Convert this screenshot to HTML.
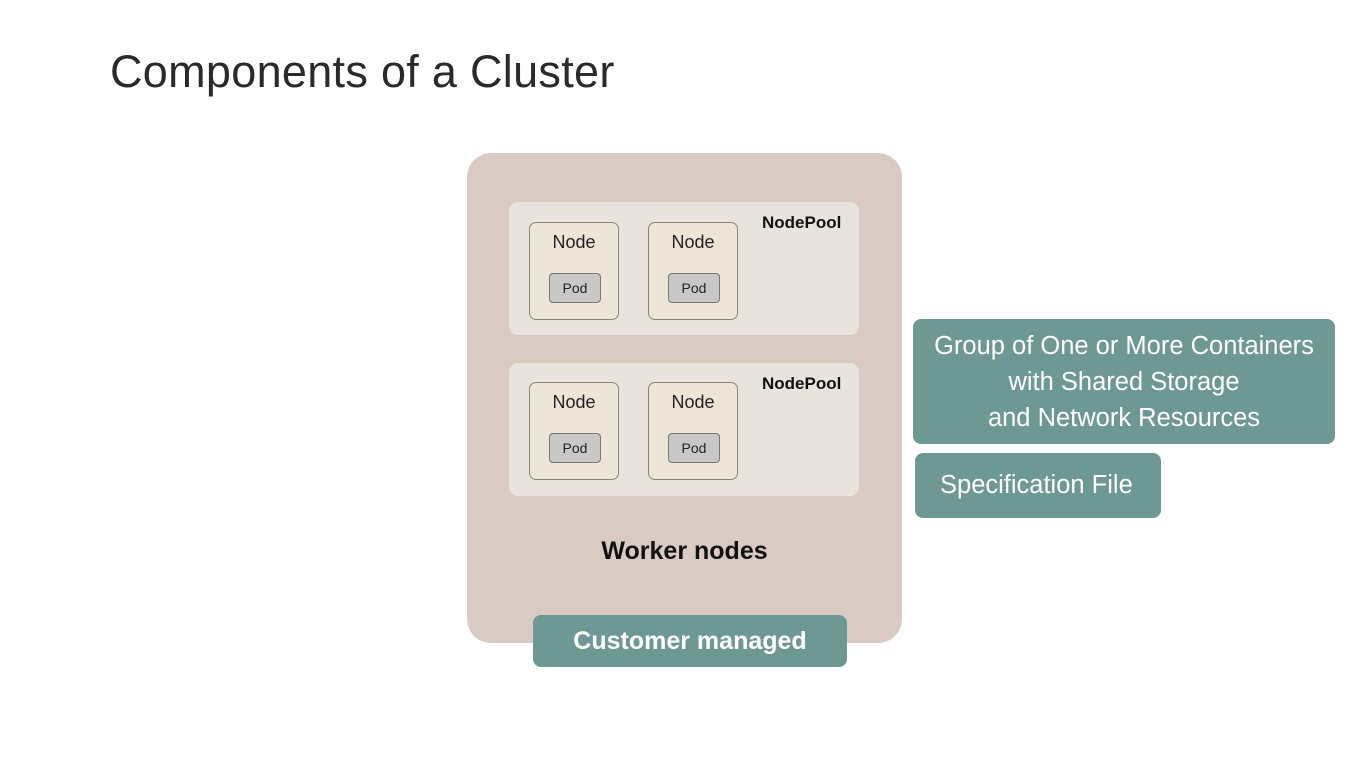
<!DOCTYPE html>
<html><head><meta charset="utf-8"><style>
body{margin:0;width:1366px;height:768px;background:#fff;position:relative;overflow:hidden;font-family:"Liberation Sans",sans-serif;}
.abs{position:absolute;box-sizing:border-box;}
h1{position:absolute;left:110px;top:46px;margin:0;font-weight:normal;font-size:45px;letter-spacing:0.3px;color:#2a2a2a;}
.outer{left:467px;top:153px;width:435px;height:490px;background:#d9cbc3;border-radius:24px;}
.pool{width:352px;height:135px;background:#e9e3dd;border:1.5px solid #d6cbbd;border-radius:10px;}
.node{width:90px;height:98px;background:#ede5d7;border:1px solid #8a8478;border-radius:7px;text-align:center;font-size:18px;color:#222;padding-top:9px;}
.pod{position:absolute;left:19px;top:50px;width:50px;height:28px;background:#c9c8c6;border:1px solid #777;border-radius:4px;font-size:14px;line-height:28px;}
.np{font-weight:bold;font-size:17px;color:#111;}
.teal{background:#6e9893;color:#fff;border-radius:8px;font-size:25.5px;}
</style></head><body>
<h1>Components of a Cluster</h1>
<div class="abs outer"></div>
<div class="abs pool" style="left:508px;top:201px"></div>
<div class="abs np" style="left:762px;top:213px">NodePool</div>
<div class="abs node" style="left:529px;top:222px">Node<div class="pod">Pod</div></div>
<div class="abs node" style="left:648px;top:222px">Node<div class="pod">Pod</div></div>
<div class="abs pool" style="left:508px;top:362px"></div>
<div class="abs np" style="left:762px;top:374px">NodePool</div>
<div class="abs node" style="left:529px;top:382px">Node<div class="pod">Pod</div></div>
<div class="abs node" style="left:648px;top:382px">Node<div class="pod">Pod</div></div>
<div class="abs" style="left:467px;top:537px;width:435px;text-align:center;font-weight:bold;font-size:25px;color:#111">Worker nodes</div>
<div class="abs teal" style="left:533px;top:615px;width:314px;height:52px;text-align:center;line-height:52px;font-weight:bold;font-size:25px;">Customer managed</div>
<div class="abs teal" style="left:913px;top:319px;width:422px;height:125px;text-align:center;padding-top:9px;line-height:36px;">Group of One or More Containers<br>with Shared Storage<br>and Network Resources</div>
<div class="abs teal" style="left:915px;top:453px;width:246px;height:65px;line-height:65px;padding-left:25px;">Specification File</div>
</body></html>
